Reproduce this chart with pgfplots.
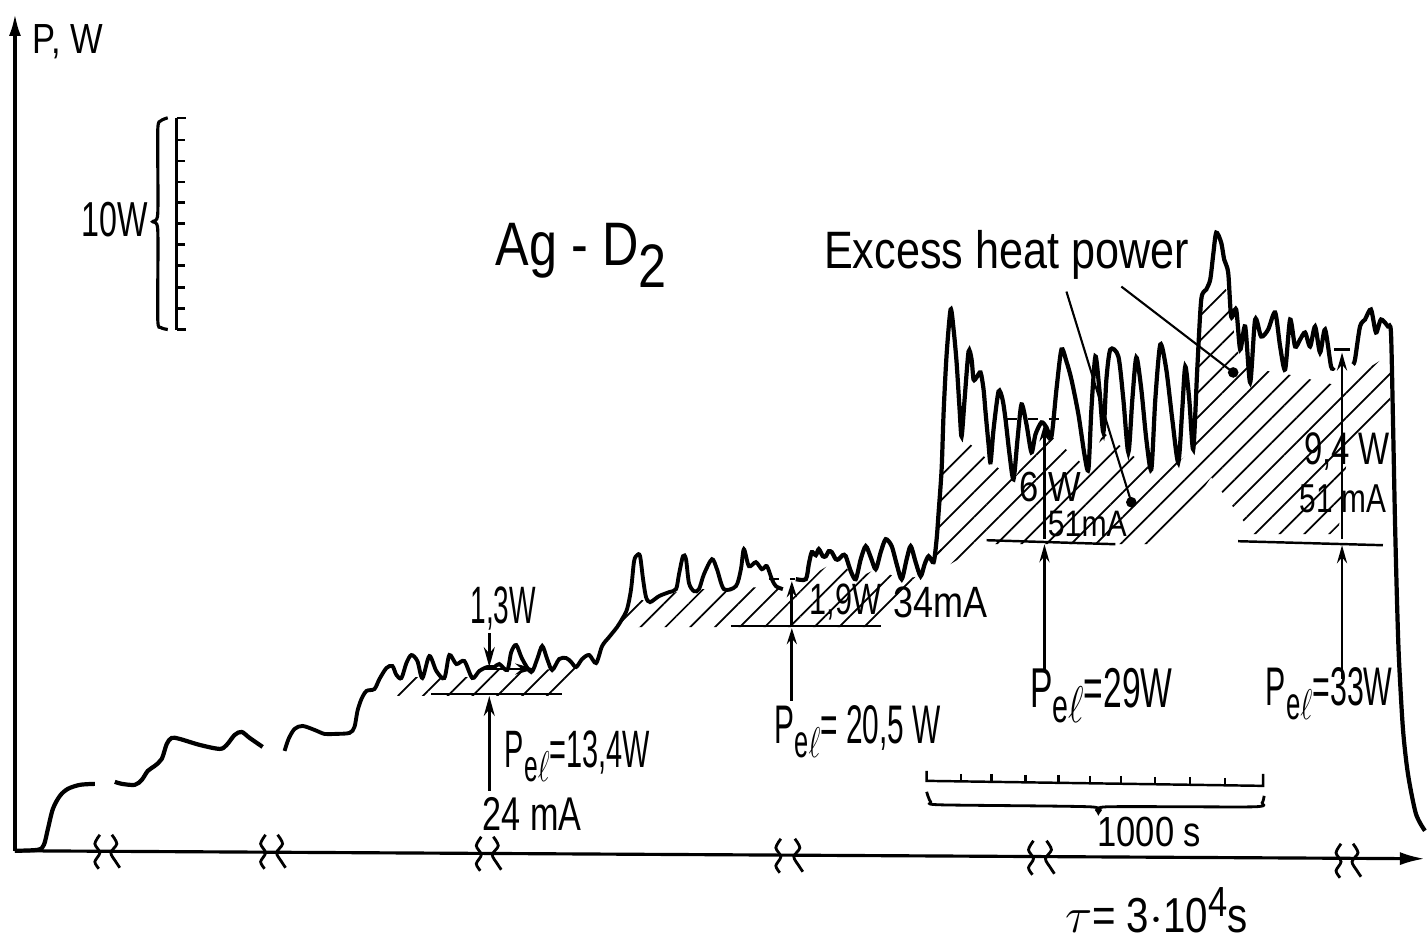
\documentclass[border=0pt]{standalone}
\usepackage{pgfplots}
\pgfplotsset{compat=1.18}
\usepackage{fontspec}
\setmainfont{Liberation Sans}[FakeStretch=0.82]
\usetikzlibrary{arrows.meta,patterns.meta}
\newcommand{\fs}[1]{\fontsize{#1}{#1}\selectfont}
\newcommand{\Pel}{P\raisebox{-0.5ex}{\scalebox{0.85}{e$\ell$}}}
\newcommand{\sx}[2]{\scalebox{#1}[1]{#2}}
\begin{document}
\begin{tikzpicture}
\begin{axis}[
  width=14.27cm, height=9.41cm, scale only axis,
  xmin=0, xmax=1427, ymin=0, ymax=941, y dir=reverse,
  axis lines=none, clip=false, unbounded coords=jump,
]
% bounding
\addplot[draw=none] coordinates {(0,0) (1427,941)};

% ---------- hatched areas ----------
\addplot[draw=none, pattern={Lines[angle=45,distance=5pt,line width=0.5pt]}] coordinates {
(398,697)(565,697)(603,662)(597,663)(590,660)(577,667)(567,662)(553,670)(532,672)(508,670)(490,672)(473,678)(445,678)(423,678)(402,678)(395,686)} -- cycle;
\addplot[draw=none, pattern={Lines[angle=45,distance=5pt,line width=0.5pt]}] coordinates {
(608,655)(640,628)(880,628)(948,556)(938,545)(935,563)(922,577)(903,580)(877,570)(857,580)(840,560)(807,580)(797,581)(782,590)(737,587)(725,590)(693,590)(677,593)(650,603)(640,600)(628,612)} -- cycle;
\addplot[draw=none, pattern={Lines[angle=45,distance=5pt,line width=0.5pt]}] coordinates {
(935,575)(941,500)(945,450)(963,437)(992,463)(1015,480)(1033,453)(1053,437)(1090,470)(1105,433)(1130,453)(1153,470)(1180,463)(1195,450)(1200,350)(1205,300)(1215,280)(1228,290)(1240,355)(1260,370)(1290,375)(1335,385)(1345,390)(1360,375)(1392,355)(1392,420)(1350,450)(1340,535)(1255,535)(1213,478)(1165,545)(985,545)} -- cycle;

% ---------- axes ----------
\addplot[line width=0.9pt, -{Latex[length=2.5mm,width=1.3mm]}] coordinates {(15,852)(1427,860)};
\addplot[line width=0.9pt, -{Latex[length=2.2mm,width=1.2mm]}] coordinates {(15,852)(15,14)};

% break marks
\addplot[line width=0.8pt, smooth] coordinates {(100,836)(95,845)(100,854)(95,863)(99,870) (101,nan) (112,836)(117,845)(111,854)(116,863)(120,869)};
\addplot[line width=0.8pt, smooth] coordinates {(266,836)(261,845)(266,854)(261,863)(265,870) (267,nan) (278,836)(283,845)(277,854)(282,863)(286,869)};
\addplot[line width=0.8pt, smooth] coordinates {(482,838)(477,847)(482,856)(477,865)(481,872) (483,nan) (494,838)(499,847)(493,856)(498,865)(502,871)};
\addplot[line width=0.8pt, smooth] coordinates {(782,840)(777,849)(782,858)(777,867)(781,874) (783,nan) (796,840)(801,849)(795,858)(800,867)(804,873)};
\addplot[line width=0.8pt, smooth] coordinates {(1035,842)(1030,851)(1035,860)(1030,869)(1034,876) (1036,nan) (1048,842)(1053,851)(1047,860)(1052,869)(1056,875)};
\addplot[line width=0.8pt, smooth] coordinates {(1343,845)(1338,854)(1343,863)(1338,872)(1342,879) (1344,nan) (1355,845)(1360,854)(1354,863)(1359,872)(1363,878)};

% ---------- main curve ----------
\addplot[line width=1.2pt, smooth, tension=0.5] coordinates {
(15,852)(38,851)(44,846)(48,830)(53,810)(60,797)(68,790)(80,786)(95,785)};
\addplot[line width=1.2pt, smooth, tension=0.5] coordinates {
(115,783)(122,785)(135,786)(142,781)(148,772)(155,767)(162,760)(167,745)(172,739)(180,740)(200,746)(220,750)(227,746)(235,736)(242,733)(250,739)(263,748)};
\addplot[line width=1.1pt, smooth, tension=0.5] coordinates {
(285,752)(289,740)(295,730)(303,727)(315,731)(325,735)(335,735)(350,734)(355,728)(358,712)(362,700)(367,692)(375,690)(380,680)(387,669)(393,667)(397,676)(402,679)(407,664)(412,656)(418,662)(423,679)(430,657)(437,672)(445,679)(450,656)(457,665)(465,662)(473,679)(480,672)(488,668)(495,668)(500,665)(508,671)(512,653)(517,646)(523,660)(532,673)(538,660)(543,647)(548,660)(553,671)(560,660)(567,659)(572,663)(577,668)(583,660)(590,656)(597,664)(603,647)(610,638)(618,628)(623,620)(628,610)(632,590)(635,562)(638,556)(641,557)(644,580)(647,598)(651,603)(660,597)(670,593)(677,590)(680,575)(684,557)(687,560)(690,584)(695,592)(700,590)(705,575)(713,560)(718,570)(725,590)(737,587)(742,570)(745,550)(750,567)(757,563)(763,570)(768,567)(773,580)(777,587)(784,590)};
\addplot[line width=0.6pt, dashed] coordinates {(770,580)(796,580)};
\addplot[line width=1.2pt, smooth, tension=0.45] coordinates {
(797,580)(807,580)(810,565)(813,553)(817,556)(820,550)(824,557)(827,557)(830,552)(833,553)(837,560)(840,560)(844,556)(847,557)(852,572)(857,580)(862,560)(867,547)(872,558)(877,570)(882,553)(887,540)(893,547)(898,565)(903,580)(908,560)(912,547)(917,563)(922,577)(926,565)(930,557)(935,563)(938,540)(940,513)(943,470)(945,413)(948,355)(952,310)(955,330)(958,363)(961,410)(963,437)(966,400)(970,352)(973,360)(975,380)(978,378)(982,373)(985,390)(987,413)(990,445)(992,463)(995,430)(1000,392)(1004,400)(1007,420)(1011,455)(1015,480)(1019,440)(1023,405)(1028,425)(1033,453)(1037,435)(1043,423)(1048,428)(1053,437)(1058,390)(1063,350)(1068,362)(1073,380)(1080,415)(1086,455)(1090,470)(1093,410)(1097,357)(1101,390)(1105,433)(1108,380)(1112,350)(1120,357)(1125,400)(1130,453)(1134,400)(1138,358)(1143,390)(1148,440)(1153,470)(1157,400)(1162,345)(1168,370)(1174,420)(1180,463)(1184,410)(1187,367)(1191,400)(1195,450)(1199,370)(1203,300)(1208,290)(1212,280)(1215,255)(1218,233)(1223,243)(1226,260)(1230,273)(1233,317)(1238,310)(1242,350)(1247,327)(1252,383)(1257,320)(1263,337)(1270,330)(1277,313)(1282,347)(1287,370)(1292,320)(1297,347)(1302,340)(1307,333)(1312,347)(1317,327)(1322,353)(1327,330)(1333,367)(1336,368)};
\addplot[line width=1.2pt, smooth, tension=0.45] coordinates {
(1355,365)(1357,360)(1362,327)(1367,320)(1373,310)(1378,333)(1383,320)(1390,327)(1393,333)(1395,420)(1397,520)(1399,600)(1401,660)(1405,730)(1410,775)(1418,815)(1427,832)};

% ---------- 10 W scale ----------
\addplot[line width=0.9pt] coordinates {(177,118)(177,330)};
\addplot[line width=0.7pt] coordinates {(177,118)(186,118)(186,nan)(177,140)(185,140)(185,nan)(177,161)(185,161)(185,nan)(177,182)(185,182)(185,nan)(177,203)(185,203)(185,nan)(177,224)(185,224)(185,nan)(177,245)(185,245)(185,nan)(177,266)(185,266)(185,nan)(177,288)(185,288)(185,nan)(177,309)(185,309)(185,nan)(177,330)(186,330)};
\addplot[line width=0.9pt, smooth, tension=0.4] coordinates {(168,118)(161,121)(158,130)(158,214)(153,222)(158,230)(158,320)(161,328)(168,330)};

% ---------- 1000 s bar ----------
\addplot[line width=0.7pt] coordinates {(928,772)(928,782)(1265,787)(1265,775)};
\addplot[line width=0.6pt] coordinates {(962,775)(962,783)(962,nan)(993,775)(993,783)(993,nan)(1027,776)(1027,784)(1027,nan)(1060,776)(1060,784)(1060,nan)(1092,777)(1092,785)(1092,nan)(1123,777)(1123,785)(1123,nan)(1157,778)(1157,786)(1157,nan)(1192,778)(1192,786)(1192,nan)(1227,779)(1227,787)};
\addplot[line width=0.8pt, smooth, tension=0.4] coordinates {(928,793)(932,803)(942,806)(1092,808)(1100,814)(1108,808)(1255,808)(1264,804)(1266,797)};

% ---------- annotations ----------
% 1.3 W
\addplot[line width=0.7pt, -{Stealth[length=2mm,width=1.1mm]}] coordinates {(490,634)(490,668)};
\addplot[line width=0.7pt, -{Stealth[length=2mm,width=1.1mm]}] coordinates {(486,670)(536,670)};
\addplot[line width=0.7pt] coordinates {(432,695)(563,695)};
\addplot[line width=0.7pt, -{Stealth[length=2mm,width=1.1mm]}] coordinates {(490,792)(490,697)};
% 1.9 W
\addplot[line width=0.7pt] coordinates {(732,627)(882,627)};
\addplot[line width=0.8pt, -{Stealth[length=1.6mm,width=1mm]}] coordinates {(793,626)(793,582)};
\addplot[line width=0.8pt, -{Stealth[length=1.6mm,width=1mm]}] coordinates {(793,702)(793,629)};
% 6 W
\addplot[line width=0.6pt, dashed] coordinates {(1008,420)(1062,420)};
\addplot[line width=0.8pt, -{Stealth[length=1.8mm,width=1mm]}] coordinates {(1046,540)(1046,424)};
\addplot[line width=0.7pt] coordinates {(988,541)(1117,545)};
\addplot[line width=0.8pt, -{Stealth[length=1.8mm,width=1mm]}] coordinates {(1046,672)(1046,545)};
% 9.4 W
\addplot[line width=0.7pt] coordinates {(1336,350)(1352,350)};
\addplot[line width=0.8pt, -{Stealth[length=1.8mm,width=1mm]}] coordinates {(1344,540)(1344,353)};
\addplot[line width=0.7pt] coordinates {(1240,542)(1385,546)};
\addplot[line width=0.8pt, -{Stealth[length=1.8mm,width=1mm]}] coordinates {(1344,680)(1344,546)};
% pointers
\addplot[line width=0.6pt] coordinates {(1068,292)(1133,503)};
\addplot[line width=0.6pt] coordinates {(1123,287)(1235,373)};
\addplot[only marks, mark=*, mark size=1.3pt] coordinates {(1133,503)(1235,373)};

% ---------- text ----------
\node at (axis cs:68,42) {\fs{12}P, W};
\node[anchor=east, inner sep=1pt] at (axis cs:152,220) {\fs{14}\sx{0.8}{10W}};
\node[anchor=west] at (axis cs:484,256) {\fs{17.5}Ag - D\raisebox{-2.2mm}{2}};
\node at (axis cs:1008,255) {\fs{15}Excess heat power};
\node[inner sep=0pt] at (axis cs:504,609) {\fs{15}\sx{0.65}{1,3W}};
\node[anchor=west, inner sep=0pt] at (axis cs:505,757) {\fs{15}\sx{0.67}{\Pel=13,4W}};
\node[inner sep=0pt] at (axis cs:533,815) {\fs{13.5}\sx{0.88}{24 mA}};
\node[anchor=west, inner sep=0pt] at (axis cs:810,603) {\fs{12.5}\sx{0.85}{1,9W}};
\node[inner sep=0pt] at (axis cs:942,603) {\fs{12.5}34mA};
\node[anchor=west, inner sep=0pt] at (axis cs:775,733) {\fs{15.5}\sx{0.67}{\Pel= 20,5 W}};
\node[inner sep=0pt] at (axis cs:1052,488) {\fs{12}6 W};
\node[inner sep=0pt] at (axis cs:1089,525) {\fs{10.5}51mA};
\node[anchor=west, inner sep=0pt] at (axis cs:1031,697) {\fs{16}\sx{0.73}{\Pel=29W}};
\node[inner sep=0pt] at (axis cs:1349,452) {\fs{13}\sx{0.88}{9,4 W}};
\node[inner sep=0pt] at (axis cs:1345,500) {\fs{11.5}\sx{0.9}{51 mA}};
\node[anchor=west, inner sep=0pt] at (axis cs:1267,695) {\fs{15.5}\sx{0.68}{\Pel=33W}};
\node at (axis cs:1151,833) {\fs{12}1000 s};
\node at (axis cs:1158,912) {\fs{14}$\tau$= 3$\cdot$10\raisebox{1.6mm}{\fs{12}4}s};
\end{axis}
\end{tikzpicture}
\end{document}
